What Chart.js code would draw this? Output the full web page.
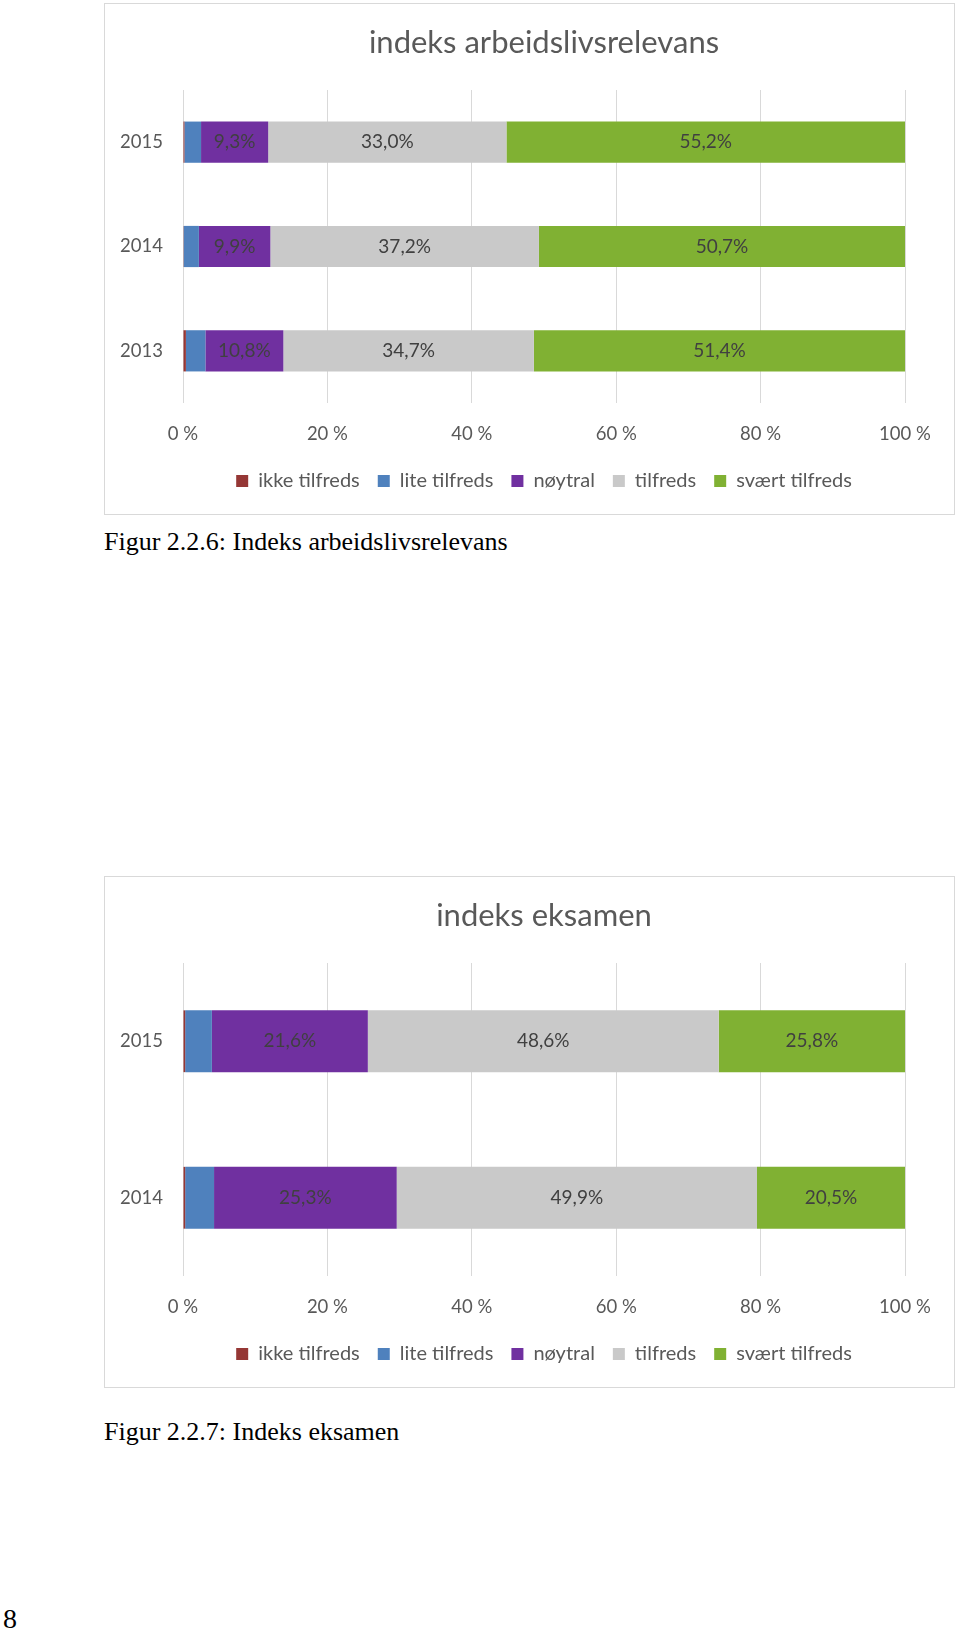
<!DOCTYPE html>
<html>
<head>
<meta charset="utf-8">
<script src="https://cdn.jsdelivr.net/npm/chart.js@4.4.1/dist/chart.umd.min.js"></script>
<style>
  body { margin: 0; background: #fff; width: 960px; height: 1629px; position: relative; overflow: hidden; }
  .box { position: absolute; left: 104px; width: 849px; height: 510px; border: 1px solid #d9d9d9; }
  .caption { position: absolute; left: 104px; font-family: 'Liberation Serif', 'Times New Roman', serif; font-size: 26px; line-height: 30px; color: #000; white-space: nowrap; }
  .pagenum { position: absolute; left: 3px; top: 1603px; font-family: 'Liberation Serif', serif; font-size: 28px; line-height: 32px; }
</style>
</head>
<body>
<div class="box" style="top:3px"><canvas id="chart1" width="849" height="510"></canvas></div>
<div class="caption" style="top:527px">Figur 2.2.6: Indeks arbeidslivsrelevans</div>

<div class="box" style="top:876px"><canvas id="chart2" width="849" height="510"></canvas></div>
<div class="caption" style="top:1417px">Figur 2.2.7: Indeks eksamen</div>

<div class="pagenum">8</div>

<script>
// answer categories (legend order)
const seriesNames = ['ikke tilfreds', 'lite tilfreds', 'nøytral', 'tilfreds', 'svært tilfreds'];
const seriesColors = ['#953735', '#4f81bd', '#7030a0', '#c9c9c9', '#80b133'];

// indeks arbeidslivsrelevans (%)
const arbYears = ['2015', '2014', '2013'];
const arbIkke = [0.2, 0.1, 0.4];
const arbLite = [2.3, 2.1, 2.7];
const arbNoytral = [9.3, 9.9, 10.8];
const arbTilfreds = [33.0, 37.2, 34.7];
const arbSvaert = [55.2, 50.7, 51.4];

// indeks eksamen (%)
const eksYears = ['2015', '2014'];
const eksIkke = [0.3, 0.3];
const eksLite = [3.7, 4.0];
const eksNoytral = [21.6, 25.3];
const eksTilfreds = [48.6, 49.9];
const eksSvaert = [25.8, 20.5];

const xTicks = [0, 20, 40, 60, 80, 100];

const font = "Lato, 'Open Sans', sans-serif";
const gray = '#595959';

// labels centred in the bars, only for the three large segments
const barLabels = {
    id: 'barLabels',
    afterDatasetsDraw(chart) {
        const ctx = chart.ctx;
        ctx.save();
        ctx.font = '19px ' + font;
        ctx.fillStyle = '#404040';
        ctx.textAlign = 'center';
        ctx.textBaseline = 'middle';
        chart.data.datasets.forEach((ds, i) => {
            if (i < 2) return;
            chart.getDatasetMeta(i).data.forEach((bar, j) => {
                const txt = ds.data[j].toFixed(1).replace('.', ',') + '%';
                ctx.fillText(txt, (bar.x + bar.base) / 2, bar.y);
            });
        });
        ctx.restore();
    }
};

function makeChart(id, title, years, values) {
    return new Chart(document.getElementById(id), {
        type: 'bar',
        data: {
            labels: years,
            datasets: values.map((v, i) => ({
                label: seriesNames[i],
                data: v,
                backgroundColor: seriesColors[i],
                borderWidth: 0,
                barPercentage: 1,
                categoryPercentage: 0.395
            }))
        },
        options: {
            indexAxis: 'y',
            responsive: false,
            animation: false,
            layout: { padding: { left: 0, right: 49, top: 0, bottom: 13 } },
            plugins: {
                title: {
                    display: true,
                    fullSize: false,
                    text: title,
                    color: gray,
                    font: { family: font, size: 31, weight: 'normal' },
                    padding: { top: 20.4, bottom: 28.4 }
                },
                legend: {
                    position: 'bottom',
                    fullSize: false,
                    labels: {
                        color: gray,
                        font: { family: font, size: 20 },
                        boxWidth: 12,
                        boxHeight: 12,
                        padding: 18
                    }
                },
                tooltip: { enabled: false }
            },
            scales: {
                x: {
                    stacked: true,
                    min: 0,
                    max: 100,
                    afterBuildTicks: axis => { axis.ticks = xTicks.map(v => ({ value: v })); },
                    afterFit: axis => { axis.height = 50; },
                    ticks: {
                        color: gray,
                        font: { family: font, size: 18.5 },
                        padding: 20,
                        callback: v => v + ' %'
                    },
                    grid: { color: '#d9d9d9', drawTicks: false },
                    border: { display: false }
                },
                y: {
                    stacked: true,
                    afterFit: axis => { axis.width = 78; },
                    ticks: {
                        color: gray,
                        font: { family: font, size: 18.5 },
                        padding: 12
                    },
                    grid: { display: false },
                    border: { display: false }
                }
            }
        },
        plugins: [barLabels]
    });
}

makeChart('chart1', 'indeks arbeidslivsrelevans', arbYears,
    [arbIkke, arbLite, arbNoytral, arbTilfreds, arbSvaert]);
makeChart('chart2', 'indeks eksamen', eksYears,
    [eksIkke, eksLite, eksNoytral, eksTilfreds, eksSvaert]);
</script>
</body>
</html>
